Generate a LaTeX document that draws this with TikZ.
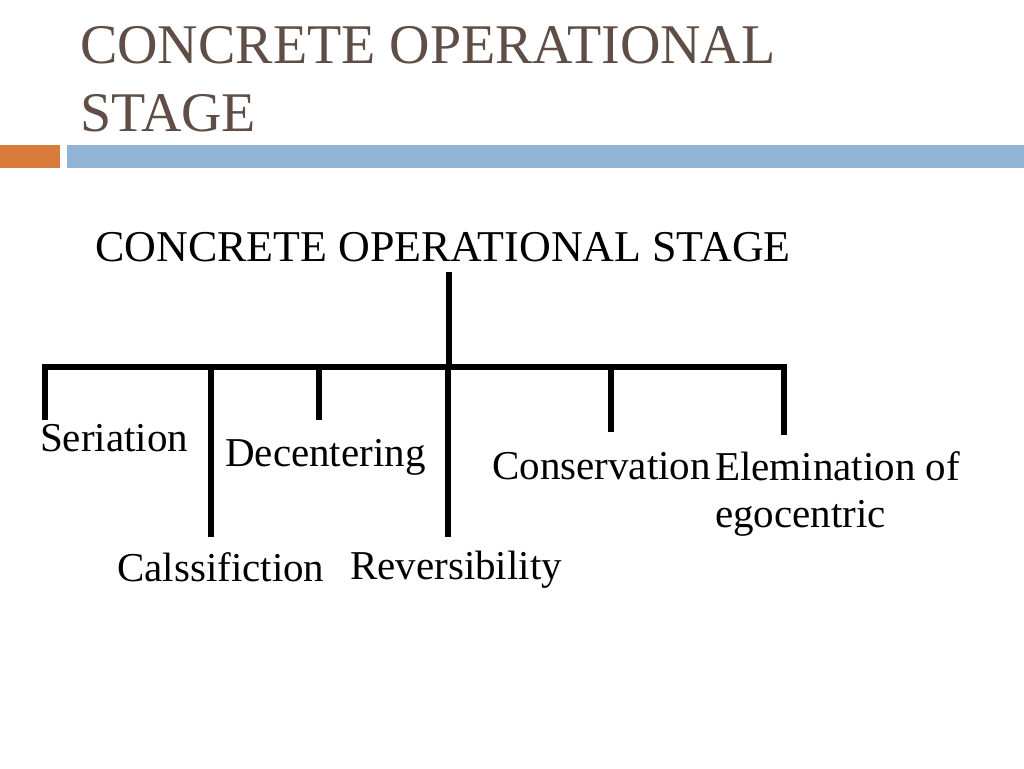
\documentclass[tikz,border=0pt]{standalone}
\usepackage{fontspec}
\setmainfont{Liberation Serif}
\definecolor{ttl}{HTML}{5E4E46}
\definecolor{orng}{HTML}{D97B3C}
\definecolor{blu}{HTML}{93B5D5}
\tikzset{lbl/.style={anchor=west,inner sep=0pt,font=\fontsize{41}{43}\selectfont,xscale=1.0},
ln/.style={line width=6pt}}
\begin{document}
\begin{tikzpicture}[x=1pt,y=-1pt]
\useasboundingbox (0,0) rectangle (1024,768);
\node[anchor=north west,align=left,text=ttl,inner sep=0pt,font=\fontsize{56}{68}\selectfont] (t) at (80,26) {CONCRETE OPERATIONAL\\STAGE};
\fill[orng] (0,145) rectangle (60,168);
\fill[blu] (67,145) rectangle (1024,168);
\node[anchor=west,inner sep=0pt,font=\fontsize{44}{46}\selectfont] (h) at (95,247) {CONCRETE OPERATIONAL STAGE};
\coordinate (top) at (449,272);
\coordinate (j) at (449,367);
\coordinate (l) at (42,367);
\coordinate (r) at (787,367);
\draw[ln] (top) -- (j);
\draw[ln] (l) -- (r);
\foreach \x/\y in {45/420,211/537,319/420,448/537,611/432,784/435}
  \draw[ln] (\x,367) -- (\x,\y);
\node[lbl] (s) at (40,438) {Seriation};
\node[lbl] (d) at (225,457) {Decentering};
\node[lbl] (c) at (492,466) {Conservation};
\node[lbl] (e) at (715,466) {Elemination of};
\node[lbl] (e2) at (715,518) {egocentric};
\node[lbl] (cl) at (117,567) {Calssifiction};
\node[lbl] (rv) at (350,570) {Reversibility};
\end{tikzpicture}
\end{document}
